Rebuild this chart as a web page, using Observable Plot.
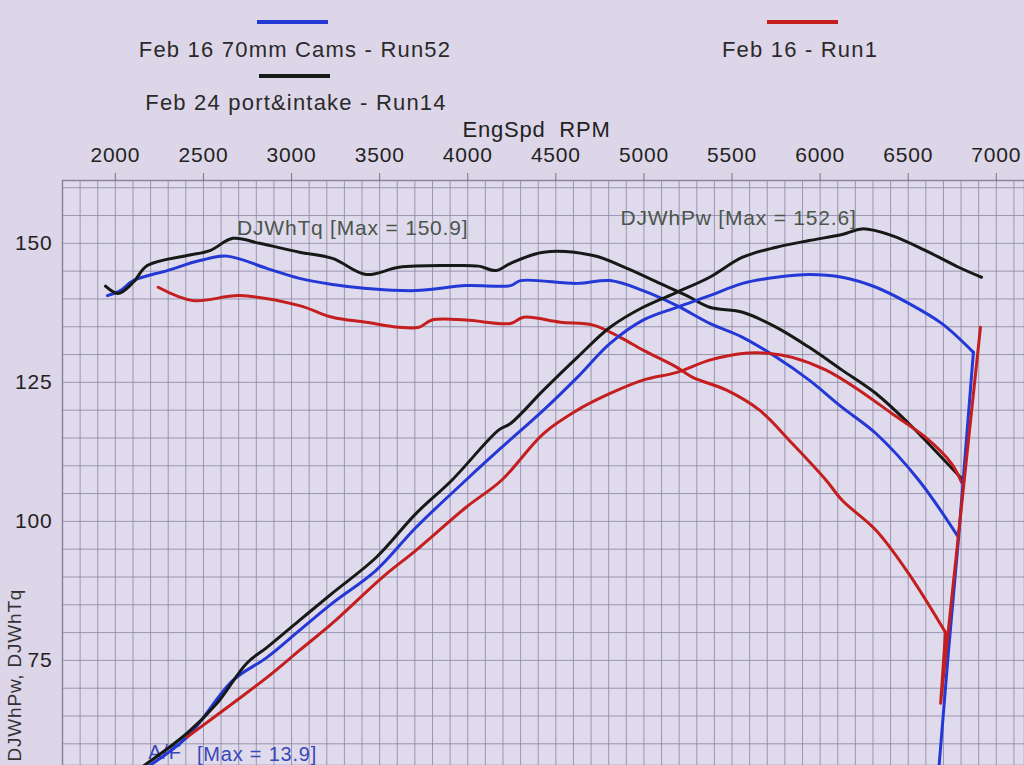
<!DOCTYPE html>
<html>
<head>
<meta charset="utf-8">
<script src="https://cdn.jsdelivr.net/npm/d3@7"></script>
<script src="https://cdn.jsdelivr.net/npm/@observablehq/plot@0.6"></script>
<style>
  html, body { margin: 0; padding: 0; background: #dcd6e8; }
  body { width: 1024px; height: 765px; overflow: hidden; font-family: "Liberation Sans", Arial, sans-serif; }
  #legend { position: relative; width: 1024px; height: 110px; }
  .sw { position: absolute; height: 4px; width: 71px; }
  .lt { position: absolute; font-size: 22px; letter-spacing: 1.2px; color: #2a2a2a; transform: translate(-50%, -50%); white-space: nowrap; }
  #chart svg { display: block; }
  #chart svg text { letter-spacing: 0.8px; }
</style>
</head>
<body>
<div id="legend"></div>
<div id="chart"></div>
<script>
// ---- Series (rpm, value) ----
const runNames = ["Feb 16 70mm Cams - Run52", "Feb 24 port&intake - Run14", "Feb 16 - Run1"];
const runColors = ["#2438d6", "#161a16", "#c41e1e"];

// Torque (DJWhTq)
const tqRun52 = [[1955,140.6],[2028,141.5],[2102,143.3],[2294,145.1],[2480,146.9],[2633,147.7],[2859,145.5],[3045,143.7],[3232,142.6],[3424,141.9],[3706,141.5],[3989,142.4],[4243,142.4],[4300,143.3],[4622,142.8],[4808,143.3],[4995,141.5],[5187,138.8],[5373,135.6],[5560,133.1],[5752,129.5],[5938,125.4],[6125,120.5],[6317,115.8],[6560,107.4],[6786,97.1]];
const tqRun14 = [[1944,142.3],[2017,141.0],[2102,143.0],[2181,146.0],[2407,147.8],[2537,148.7],[2667,150.9],[2819,150.0],[3045,148.4],[3232,147.3],[3424,144.4],[3610,145.7],[3893,146.0],[4062,145.9],[4158,145.1],[4243,146.4],[4430,148.4],[4712,147.8],[4904,145.5],[5091,142.8],[5243,140.6],[5373,138.5],[5560,137.6],[5752,134.9],[5938,131.3],[6125,127.2],[6317,123.0],[6503,117.6],[6690,111.5],[6803,107.7]];
const tqRun1 = [[2243,142.1],[2441,139.7],[2706,140.6],[3045,138.8],[3232,136.7],[3424,135.8],[3610,134.9],[3723,134.9],[3797,136.2],[3989,136.2],[4243,135.6],[4317,136.7],[4526,135.8],[4712,135.3],[4865,133.1],[4995,130.8],[5187,127.7],[5277,125.9],[5469,123.6],[5656,120.0],[5842,114.0],[6034,107.4],[6125,103.8],[6317,98.4],[6503,90.6],[6712,80.0]];

// Power (DJWhPw)
const pwRun52 = [[2170,55.6],[2407,61.2],[2667,71.4],[2859,75.5],[3045,80.4],[3232,85.3],[3480,91.2],[3706,98.9],[3989,107.4],[4175,112.8],[4430,120.0],[4622,125.9],[4808,132.0],[4995,136.2],[5187,138.5],[5373,140.6],[5560,142.8],[5752,143.9],[5938,144.4],[6125,143.9],[6317,142.1],[6503,139.2],[6690,135.6],[6870,130.4]];
const pwRun14 = [[2141,55.6],[2407,61.9],[2577,67.3],[2746,74.5],[2859,77.3],[3045,82.2],[3232,87.1],[3480,93.5],[3706,101.4],[3910,107.4],[4175,116.4],[4243,117.6],[4430,123.6],[4622,129.5],[4808,134.9],[4995,138.5],[5187,141.2],[5373,143.9],[5560,147.5],[5752,149.3],[5938,150.5],[6125,151.6],[6240,152.6],[6407,151.4],[6599,148.7],[6786,145.7],[6916,143.9]];
const pwRun1 = [[2407,61.2],[2667,67.3],[2859,71.9],[3045,76.8],[3232,81.7],[3514,89.9],[3706,94.8],[3989,102.5],[4192,107.4],[4430,115.8],[4622,120.0],[4808,123.0],[4995,125.4],[5187,126.8],[5373,129.0],[5560,130.2],[5712,130.2],[5842,129.5],[6034,127.2],[6221,123.6],[6407,119.4],[6599,115.1],[6746,110.4],[6803,107.0]];

// End-of-pull drop-offs (drawn straight)
const tailRun52Pw = [[6870,130.4],[6786,97.1]];
const tailRun52Tq = [[6786,97.1],[6729,76.8],[6673,55.2]];
const tailRun1Tq = [[6712,80.0],[6684,67.3],[6910,134.9]];

// Axis ticks and labels
const xTicks = [2000, 2500, 3000, 3500, 4000, 4500, 5000, 5500, 6000, 6500, 7000];
const yTicks = [75, 100, 125, 150];
const xGrid = d3.range(1700, 7200, 100);
const yGrid = d3.range(60, 165, 5);

// Annotations
const maxNotes = [
  {label: "DJWhTq [Max = 150.9]", rpm: 3347, v: 152.7},
  {label: "DJWhPw [Max = 152.6]", rpm: 5537, v: 154.5}
];
const afNotes = [
  {label: "A/F", rpm: 2186, v: 58.4},
  {label: "[Max = 13.9]", rpm: 2463, v: 58.1}
];

// ---- Legend (HTML above the SVG) ----
const legendItems = [
  {name: runNames[0], color: runColors[0], swX: 257, swY: 20, tx: 295, ty: 50},
  {name: runNames[1], color: runColors[1], swX: 259, swY: 74, tx: 296, ty: 103},
  {name: runNames[2], color: runColors[2], swX: 767, swY: 20, tx: 800, ty: 50}
];
const legend = document.getElementById("legend");
for (const it of legendItems) {
  const sw = document.createElement("div");
  sw.className = "sw";
  sw.style.left = it.swX + "px"; sw.style.top = it.swY + "px"; sw.style.background = it.color;
  legend.appendChild(sw);
  const t = document.createElement("div");
  t.className = "lt";
  t.style.left = it.tx + "px"; t.style.top = it.ty + "px";
  t.textContent = it.name;
  legend.appendChild(t);
}

// ---- Build long tables ----
const toRows = list => list.flatMap(s => s.pts.map(([rpm, v]) => ({rpm, v, run: s.run, id: s.run + s.kind})));
const rows = toRows([
  {run: runNames[0], kind: "tq", pts: tqRun52},
  {run: runNames[1], kind: "tq", pts: tqRun14},
  {run: runNames[2], kind: "tq", pts: tqRun1},
  {run: runNames[0], kind: "pw", pts: pwRun52},
  {run: runNames[1], kind: "pw", pts: pwRun14},
  {run: runNames[2], kind: "pw", pts: pwRun1}
]);
const tailRows = toRows([
  {run: runNames[0], kind: "pwtail", pts: tailRun52Pw},
  {run: runNames[0], kind: "tqtail", pts: tailRun52Tq},
  {run: runNames[2], kind: "tqtail", pts: tailRun1Tq}
]);

const chart = Plot.plot({
  width: 1024,
  height: 655,
  marginTop: 70,
  marginBottom: 0,
  marginLeft: 62,
  marginRight: 0,
  style: {background: "transparent", fontFamily: "Liberation Sans, Arial, sans-serif", fontSize: "22px", color: "#222"},
  x: {domain: [1700, 7160]},
  y: {domain: [56.1, 161.3]},
  color: {domain: runNames, range: runColors},
  marks: [
    Plot.frame({fill: "#e0daed", stroke: "none"}),
    Plot.gridX(xGrid, {stroke: "#8a86a0", strokeOpacity: 0.8, strokeWidth: 1}),
    Plot.gridY(yGrid, {stroke: "#8a86a0", strokeOpacity: 0.8, strokeWidth: 1}),
    Plot.frame({stroke: "#8a869c", strokeWidth: 1.5}),
    Plot.axisX(xTicks, {anchor: "top", tickSize: 8, tickPadding: 11, label: null, tickFormat: d => String(d), fontSize: 21, stroke: "#777"}),
    Plot.axisY(yTicks, {anchor: "left", tickSize: 0, tickPadding: 10, label: null, fontSize: 21}),
    Plot.text(["EngSpd\u00a0 RPM"], {frameAnchor: "top", dy: -59, dx: -7, fontSize: 22, fill: "#222"}),
    Plot.text(["DJWhPw, DJWhTq"], {frameAnchor: "bottom-left", dx: -42, dy: -4, rotate: -90, textAnchor: "start", fontSize: 19, fill: "#333"}),
    Plot.text(maxNotes, {x: "rpm", y: "v", text: "label", textAnchor: "middle", fill: "#4a564c", fontSize: 21}),
    Plot.text(afNotes, {x: "rpm", y: "v", text: "label", textAnchor: "start", fill: "#3848b8", fontSize: 20}),
    Plot.line(rows, {x: "rpm", y: "v", z: "id", stroke: "run", strokeWidth: 3, curve: "catmull-rom", clip: true}),
    Plot.line(tailRows, {x: "rpm", y: "v", z: "id", stroke: "run", strokeWidth: 3, curve: "linear", clip: true})
  ]
});
document.getElementById("chart").appendChild(chart);
</script>
</body>
</html>
